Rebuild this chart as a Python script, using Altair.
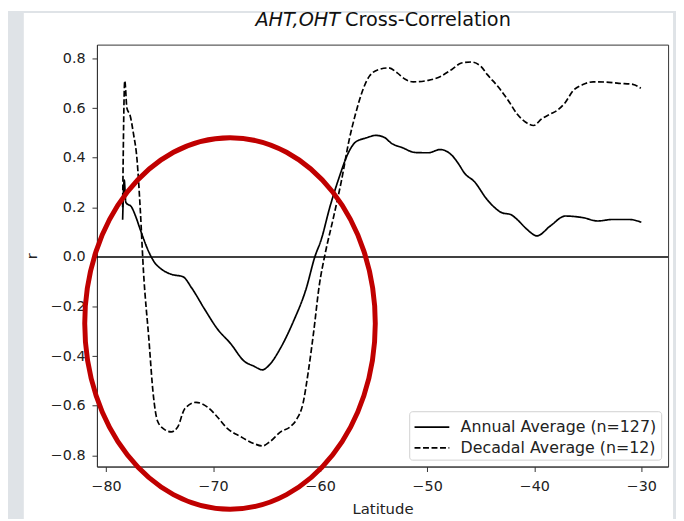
import altair as alt
import pandas as pd

# ---- data ----
annual_lat = [-78.45, -78.3, -78.15, -77.6, -77.2, -76.8, -76.0, -75.5, -74.8, -73.9,
              -72.8, -72.0, -70.8, -69.6, -68.35, -67.1, -66.2, -65.4, -64.7, -63.7,
              -62.5, -61.3, -60.5, -59.9, -59.1, -58.2, -57.4, -56.7, -55.7, -54.8,
              -54.05, -53.3, -52.35, -51.1, -49.9, -48.8, -47.7, -47.1, -46.5, -45.6,
              -44.4, -43.0, -42.2, -41.6, -40.7, -39.75, -38.5, -37.1, -35.4, -34.1,
              -32.7, -31.1, -30.0]
annual_r = [0.15, 0.31, 0.22, 0.20, 0.16, 0.11, 0.02, -0.02, -0.05, -0.07,
            -0.08, -0.125, -0.21, -0.29, -0.35, -0.42, -0.44, -0.455, -0.433, -0.367,
            -0.26, -0.127, 0.0, 0.07, 0.20, 0.324, 0.417, 0.463, 0.48, 0.49,
            0.483, 0.457, 0.441, 0.421, 0.42, 0.433, 0.41, 0.377, 0.337, 0.304,
            0.231, 0.178, 0.171, 0.151, 0.112, 0.085, 0.125, 0.165, 0.158, 0.145,
            0.151, 0.151, 0.14]

decadal_lat = [-78.45, -78.25, -78.05, -77.75, -77.45, -77.1, -76.8, -76.5, -76.0, -75.6,
               -75.2, -74.65, -73.9, -73.3, -72.65, -71.6, -70.5, -69.6, -68.65, -67.4,
               -66.2, -65.4, -64.7, -63.7, -62.8, -62.2, -61.6, -61.1, -60.6, -60.1,
               -59.5, -58.8, -58.0, -57.3, -56.7, -56.05, -55.4, -54.5, -53.6, -52.8,
               -52.05, -51.3, -49.9, -48.7, -47.7, -46.8, -45.9, -45.0, -44.4, -43.3,
               -42.4, -41.6, -40.8, -40.05, -39.3, -38.5, -37.9, -37.1, -36.4, -35.4,
               -34.5, -33.3, -32.1, -30.8, -30.05]
decadal_r = [0.20, 0.71, 0.60, 0.57, 0.50, 0.39, 0.19, -0.06, -0.33, -0.55,
             -0.66, -0.692, -0.705, -0.685, -0.612, -0.586, -0.606, -0.645, -0.692, -0.725,
             -0.752, -0.762, -0.745, -0.705, -0.685, -0.655, -0.59, -0.46, -0.30, -0.12,
             0.02, 0.151, 0.31, 0.47, 0.576, 0.669, 0.729, 0.756, 0.762, 0.742,
             0.716, 0.706, 0.712, 0.729, 0.756, 0.782, 0.786, 0.769, 0.736, 0.682,
             0.629, 0.576, 0.543, 0.53, 0.557, 0.576, 0.59, 0.623, 0.669, 0.696,
             0.706, 0.705, 0.70, 0.696, 0.68]

series_names = ["Annual Average (n=127)", "Decadal Average (n=12)"]
x_ticks = [-80, -70, -60, -50, -40, -30]
y_ticks = [-0.8, -0.6, -0.4, -0.2, 0.0, 0.2, 0.4, 0.6, 0.8]

# annotation ellipse centre (data coordinates)
ellipse_lat = [-68.42]
ellipse_r = [-0.268]

df = pd.concat([
    pd.DataFrame({"lat": annual_lat, "r": annual_r, "series": series_names[0]}),
    pd.DataFrame({"lat": decadal_lat, "r": decadal_r, "series": series_names[1]}),
])

FONT = "DejaVu Sans"
SLIDE_GREY = "#dfe3e7"
x_scale = alt.Scale(domain=[-80.85, -27.5], nice=False, zero=False)
y_scale = alt.Scale(domain=[-0.845, 0.856], nice=False, zero=False)

x_enc = alt.X("lat:Q", scale=x_scale,
              axis=alt.Axis(values=x_ticks, format="d", title="Latitude",
                            labelPadding=8, titlePadding=9))
y_enc = alt.Y("r:Q", scale=y_scale,
              axis=alt.Axis(values=y_ticks, format=".1f", title="r",
                            labelPadding=7, titlePadding=11))

# grey slide strips around the white figure
one = pd.DataFrame({"a": [0]})
strip_left = alt.Chart(one).mark_rect(color=SLIDE_GREY).encode(
    x=alt.value(-90), x2=alt.value(-74), y=alt.value(-34), y2=alt.value(485))
strip_top = alt.Chart(one).mark_rect(color=SLIDE_GREY).encode(
    x=alt.value(-90), x2=alt.value(586), y=alt.value(-34), y2=alt.value(-32))
strip_right = alt.Chart(one).mark_rect(color=SLIDE_GREY).encode(
    x=alt.value(583), x2=alt.value(586), y=alt.value(-34), y2=alt.value(485))

zero = alt.Chart(pd.DataFrame({"r": [0.0]})).mark_rule(color="black", strokeWidth=1.5).encode(
    y=alt.Y("r:Q", scale=y_scale)
)

legend_shape = "M -1.6 0 L 1.6 0"
lines = alt.Chart(df).mark_line(color="black", strokeWidth=1.7, interpolate="monotone").encode(
    x=x_enc,
    y=y_enc,
    strokeDash=alt.StrokeDash(
        "series:N",
        scale=alt.Scale(domain=series_names, range=[[1, 0], [6, 2.6]]),
        legend=alt.Legend(
            title=None, orient="bottom-right", offset=7,
            symbolType=legend_shape, symbolSize=484, symbolStrokeWidth=1.7,
            symbolStrokeColor="black", symbolOffset=7, labelOffset=17,
            labelFont=FONT, labelFontSize=16, labelColor="#222", labelLimit=400,
            fillColor="white", strokeColor="#d0d0d0", cornerRadius=3,
            padding=4, rowPadding=1,
        ),
    ),
)

ellipse_path = "M -0.782 0 A 0.782 1 0 1 0 0.782 0 A 0.782 1 0 1 0 -0.782 0 Z"
ellipse = alt.Chart(pd.DataFrame({"lat": ellipse_lat, "r": ellipse_r})).mark_point(
    shape=ellipse_path, size=141376, filled=False, stroke="#c00000",
    strokeWidth=5, opacity=1
).encode(x=alt.X("lat:Q", scale=x_scale), y=alt.Y("r:Q", scale=y_scale))

title_a = alt.Chart(pd.DataFrame({"t": ["AHT,OHT"]})).mark_text(
    font=FONT, fontSize=19.5, fontStyle="italic", align="right", baseline="alphabetic", color="#111"
).encode(text="t:N", x=alt.value(246), y=alt.value(-19))
title_b = alt.Chart(pd.DataFrame({"t": ["Cross-Correlation"]})).mark_text(
    font=FONT, fontSize=19.5, align="left", baseline="alphabetic", color="#111"
).encode(text="t:N", x=alt.value(251), y=alt.value(-19))

chart = alt.layer(strip_left, strip_top, strip_right, zero, lines, ellipse, title_a, title_b).properties(
    width=578, height=427,
    padding={"left": 90, "top": 34, "right": 8, "bottom": 50},
    autosize=alt.AutoSizeParams(type="none"),
    background="white",
).configure_view(
    stroke="#333", strokeWidth=1
).configure_axis(
    grid=False, domainColor="#333", tickColor="#333", tickSize=5,
    labelFont=FONT, labelFontSize=14.5, labelColor="#222",
    titleFont=FONT, titleFontSize=15, titleFontWeight="normal", titleColor="#222",
)

chart.save("out.html", embed_options={"renderer": "svg", "actions": False})
